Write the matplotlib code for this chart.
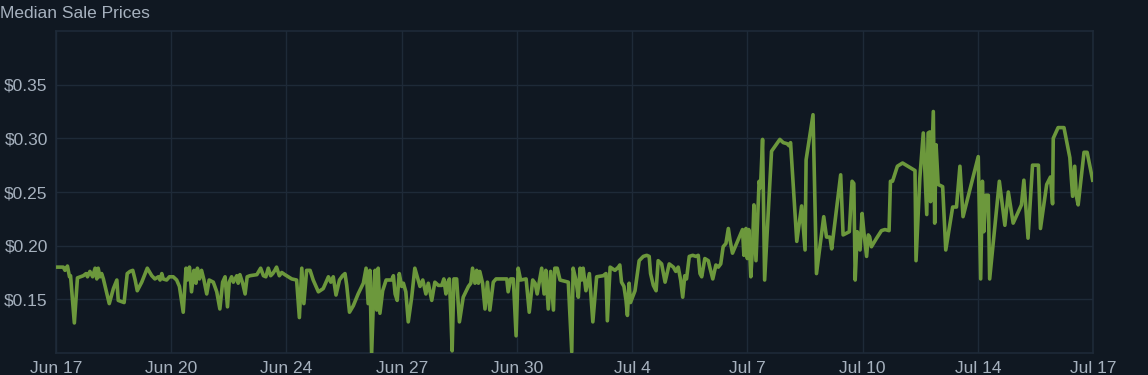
import matplotlib
matplotlib.use("Agg")
import matplotlib.pyplot as plt
import numpy as np
import pandas as pd

# days since Jun 17 and median price at that moment
days = [
    0.02, 0.21, 0.26, 0.33, 0.39, 0.42, 0.53, 0.62, 0.79, 0.87, 0.91, 0.98, 1.06, 1.13, 1.18, 1.22,
    1.27, 1.32, 1.37, 1.54, 1.66, 1.76, 1.80, 1.97, 2.06, 2.14, 2.22, 2.29, 2.35, 2.48, 2.64, 2.77,
    2.86, 2.96, 3.01, 3.06, 3.10, 3.20, 3.28, 3.39, 3.49, 3.57, 3.68, 3.76, 3.80, 3.86, 3.92, 3.99,
    4.05, 4.09, 4.15, 4.21, 4.28, 4.36, 4.43, 4.55, 4.65, 4.74, 4.82, 4.89, 4.96, 5.01, 5.08, 5.13,
    5.23, 5.27, 5.32, 5.40, 5.47, 5.53, 5.61, 5.81, 5.92, 6.00, 6.07, 6.14, 6.21, 6.27, 6.33, 6.38,
    6.46, 6.53, 6.62, 6.82, 6.96, 7.04, 7.11, 7.17, 7.25,
    7.35, 7.44, 7.59, 7.73, 7.88, 7.95, 8.02, 8.10, 8.20, 8.29, 8.36, 8.41, 8.49, 8.60, 8.74, 8.89,
    8.97, 9.03, 9.08, 9.13, 9.20, 9.23, 9.28, 9.32, 9.37, 9.45, 9.55, 9.71, 9.76, 9.81, 9.87, 9.93,
    10.00, 10.05, 10.12, 10.19, 10.29, 10.38, 10.45, 10.53, 10.61, 10.70, 10.77, 10.87, 10.96, 11.06,
    11.16, 11.22, 11.28, 11.32, 11.38, 11.42, 11.46, 11.51, 11.59, 11.67, 11.78, 11.93, 12.00, 12.05,
    12.12, 12.17, 12.22, 12.26, 12.34, 12.41, 12.48, 12.55, 12.65, 12.73, 13.04, 13.08, 13.15, 13.23,
    13.31, 13.37, 13.44, 13.60, 13.69, 13.79, 13.86, 13.92, 13.98, 14.05, 14.12, 14.17, 14.24, 14.31,
    14.39, 14.43, 14.50, 14.58, 14.82, 14.92, 14.96, 15.04, 15.11, 15.16, 15.21, 15.25, 15.33, 15.43,
    15.53, 15.64, 15.83, 15.91, 15.95, 16.03, 16.17, 16.27, 16.31, 16.36, 16.43, 16.49, 16.53, 16.58,
    16.62, 16.75, 16.87, 16.99, 17.09, 17.16, 17.20, 17.28, 17.36, 17.42, 17.52, 17.62, 17.74, 17.86,
    17.93, 18.00, 18.07, 18.13, 18.19, 18.24, 18.32, 18.42, 18.51, 18.58, 18.63, 18.68, 18.77, 18.87,
    18.92, 19.00, 19.09, 19.16, 19.23, 19.30, 19.38, 19.45, 19.50, 19.57, 19.69, 19.81, 19.86, 19.90,
    19.96, 20.00, 20.04, 20.10, 20.15, 20.19, 20.25, 20.29, 20.34, 20.38, 20.44, 20.50, 20.70, 20.94,
    21.04, 21.15, 21.21, 21.25, 21.43, 21.57, 21.67, 21.70, 21.90, 22.00,
    22.21, 22.29, 22.39, 22.44, 22.70, 22.77, 22.95, 23.03, 23.08, 23.12, 23.18, 23.26, 23.32, 23.38,
    23.45, 23.50, 23.54, 23.59, 23.74, 23.88, 23.98, 24.10, 24.14, 24.20, 24.34, 24.49, 24.75, 24.85,
    24.88, 24.99, 25.09, 25.19, 25.23, 25.28, 25.30, 25.38, 25.42, 25.46, 25.52, 25.65, 25.74, 25.94,
    26.05, 26.15, 26.24, 26.68, 26.75, 26.80, 26.84, 26.90, 26.97, 27.01, 27.29, 27.45, 27.55, 27.69,
    27.93, 28.00, 28.12, 28.25, 28.42, 28.48, 28.66, 28.77, 28.83, 28.85, 28.99, 29.16, 29.33, 29.41,
    29.47, 29.52, 29.57, 29.74, 29.83, 29.99,
]
prices = [
    0.180, 0.180, 0.177, 0.181, 0.171, 0.172, 0.128, 0.170, 0.172, 0.174, 0.171, 0.176, 0.171, 0.179, 0.169, 0.179,
    0.171, 0.174, 0.169, 0.146, 0.160, 0.168, 0.149, 0.147, 0.174, 0.176, 0.177, 0.168, 0.158, 0.166, 0.179, 0.172,
    0.169, 0.171, 0.168, 0.174, 0.169, 0.168, 0.171, 0.171, 0.168, 0.162, 0.138, 0.179, 0.168, 0.180, 0.157, 0.177,
    0.165, 0.179, 0.169, 0.177, 0.168, 0.155, 0.168, 0.166, 0.157, 0.141, 0.166, 0.171, 0.143, 0.166, 0.171, 0.166,
    0.172, 0.165, 0.173, 0.165, 0.155, 0.171, 0.172, 0.173, 0.179, 0.172, 0.171, 0.179, 0.172, 0.174, 0.177, 0.180,
    0.172, 0.175, 0.173, 0.169, 0.168, 0.133, 0.179, 0.146, 0.177,
    0.177, 0.168, 0.157, 0.160, 0.171, 0.166, 0.171, 0.154, 0.168, 0.172, 0.174, 0.163, 0.138, 0.144, 0.155, 0.165,
    0.179, 0.146, 0.177, 0.099, 0.165, 0.177, 0.140, 0.179, 0.137, 0.158, 0.168, 0.168, 0.172, 0.155, 0.149, 0.174,
    0.162, 0.165, 0.157, 0.129, 0.152, 0.179, 0.171, 0.162, 0.168, 0.155, 0.165, 0.149, 0.166, 0.163,
    0.163, 0.169, 0.155, 0.165, 0.169, 0.138, 0.102, 0.169, 0.169, 0.129, 0.152, 0.162, 0.165, 0.179,
    0.165, 0.177, 0.165, 0.176, 0.165, 0.141, 0.166, 0.140, 0.166, 0.169, 0.169, 0.157, 0.169, 0.169,
    0.116, 0.179, 0.168, 0.169, 0.138, 0.168, 0.165, 0.155, 0.166, 0.179, 0.155, 0.177, 0.141, 0.176,
    0.140, 0.179, 0.179, 0.168, 0.166, 0.101, 0.179, 0.168, 0.152, 0.179, 0.168, 0.179, 0.158, 0.174,
    0.129, 0.171, 0.172, 0.174, 0.130, 0.180, 0.177, 0.180, 0.182, 0.166, 0.162, 0.149, 0.135, 0.165,
    0.147, 0.158, 0.186, 0.190, 0.191, 0.190, 0.174, 0.163, 0.158, 0.186, 0.183, 0.166, 0.183, 0.180,
    0.176, 0.180, 0.168, 0.152, 0.172, 0.169, 0.190, 0.191, 0.190, 0.191, 0.174, 0.171, 0.188, 0.186,
    0.179, 0.169, 0.182, 0.180, 0.183, 0.199, 0.202, 0.216, 0.205, 0.193, 0.202, 0.211, 0.215, 0.191,
    0.216, 0.188, 0.215, 0.171, 0.199, 0.238, 0.186, 0.219, 0.260, 0.254, 0.299, 0.168, 0.288, 0.299,
    0.296, 0.295, 0.293, 0.296, 0.204, 0.237, 0.196, 0.280, 0.322, 0.174,
    0.227, 0.208, 0.208, 0.197, 0.266, 0.210, 0.213, 0.260, 0.258, 0.168, 0.213, 0.196, 0.230, 0.210,
    0.190, 0.210, 0.208, 0.199, 0.207, 0.214, 0.215, 0.214, 0.260, 0.260, 0.274, 0.277, 0.272, 0.270,
    0.186, 0.263, 0.305, 0.229, 0.305, 0.306, 0.241, 0.325, 0.221, 0.294, 0.257, 0.255, 0.196, 0.236,
    0.236, 0.274, 0.227, 0.283, 0.169, 0.260, 0.213, 0.247, 0.247, 0.169, 0.260, 0.219, 0.250, 0.221,
    0.238, 0.261, 0.207, 0.275, 0.275, 0.216, 0.257, 0.264, 0.239, 0.300, 0.310, 0.310, 0.282, 0.246,
    0.274, 0.246, 0.238, 0.287, 0.287, 0.261,
]

start = pd.Timestamp("2024-06-17")
end = pd.Timestamp("2024-07-17")
tick_labels = ["Jun 17", "Jun 20", "Jun 24", "Jun 27", "Jun 30",
               "Jul 4", "Jul 7", "Jul 10", "Jul 14", "Jul 17"]
y_ticks = [0.15, 0.20, 0.25, 0.30, 0.35]

bg = "#101822"
grid_c = "#1e2a38"
text_c = "#a6b1be"
line_c = "#6c983c"

plt.rcParams["font.family"] = ["Liberation Sans", "DejaVu Sans"]

times = start + pd.to_timedelta(np.array(days), unit="D")

fig = plt.figure(figsize=(11.48, 3.75), dpi=100, facecolor=bg)
ax = fig.add_axes([0.0488, 0.0587, 0.9033, 0.8586], facecolor=bg)

ax.plot(times, prices, color=line_c, linewidth=2.6, solid_joinstyle="round", zorder=3)

ax.set_xlim(start, end)
ax.set_ylim(0.10, 0.40)

xt = pd.date_range(start, end, periods=len(tick_labels))
ax.set_xticks(xt)
ax.set_xticklabels(tick_labels)
ax.set_yticks(y_ticks)
ax.set_yticklabels([f"${v:.2f}" for v in y_ticks])

ax.grid(True, color=grid_c, linewidth=1.0)
ax.tick_params(colors=text_c, labelsize=12.5, length=0, pad=6)
for s in ax.spines.values():
    s.set_color(grid_c)
    s.set_linewidth(1.2)

fig.text(0.0, 0.964, "Median Sale Prices", color=text_c, fontsize=12.5, va="center", ha="left")

fig.savefig("out.png", dpi=100, facecolor=bg)
